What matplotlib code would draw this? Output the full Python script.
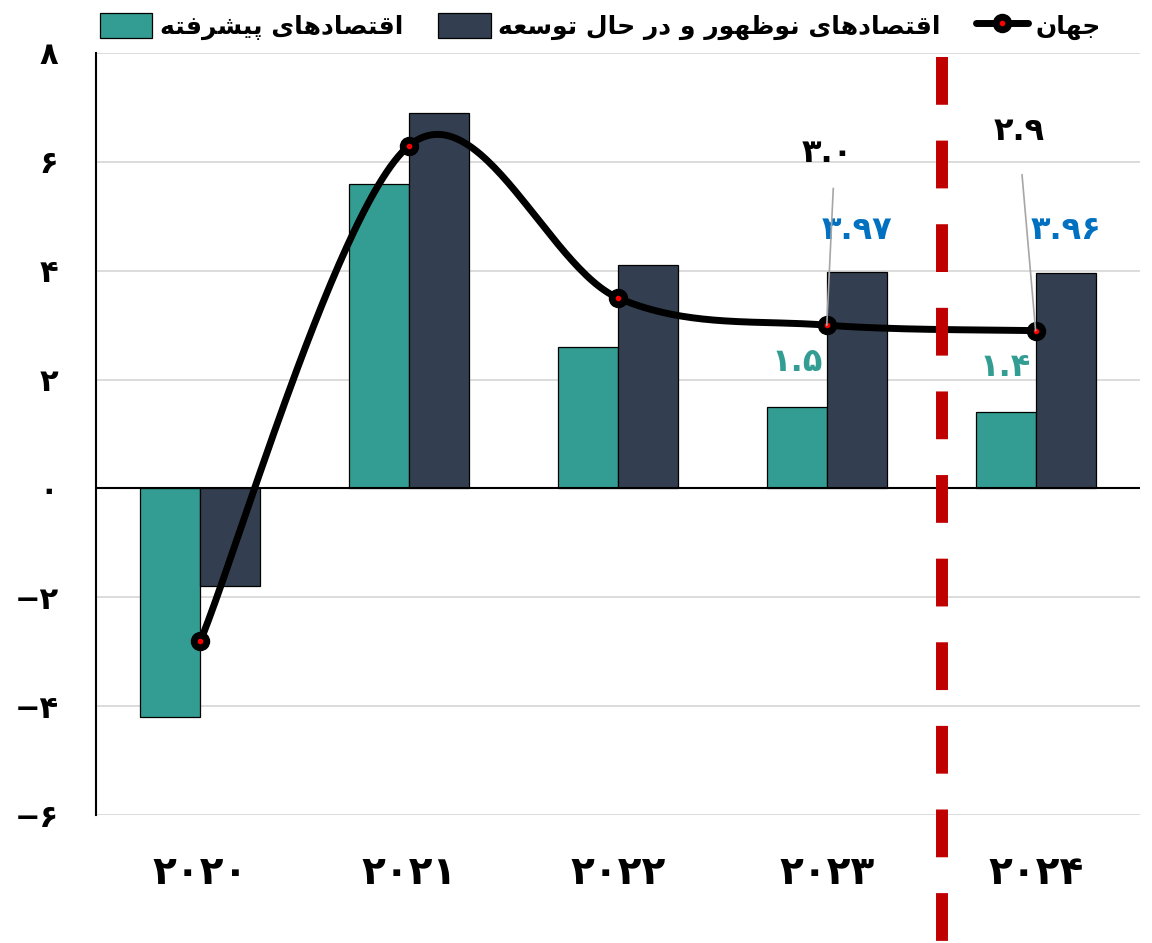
import numpy as np
import matplotlib
matplotlib.use('Agg')
from matplotlib import pyplot as plt
from matplotlib.legend_handler import HandlerTuple

years = ['2020', '2021', '2022', '2023', '2024']
advanced = [-4.2, 5.6, 2.6, 1.5, 1.4]
emerging = [-1.8, 6.9, 4.1, 3.97, 3.96]
world = [-2.8, 6.3, 3.5, 3.0, 2.9]
yticks = [-6, -4, -2, 0, 2, 4, 6, 8]

label_adv = 'اقتصادهای پیشرفته'
label_emg = 'اقتصادهای نوظهور و در حال توسعه'
label_world = 'جهان'

c_adv = '#339D93'
c_emg = '#333F50'
c_blue = '#0070C0'
c_red = '#C00000'

# contextual forms: isolated, final, initial, medial
FORMS = {
    'ا': ('\uFE8D', '\uFE8E', None, None),
    'د': ('\uFEA9', '\uFEAA', None, None),
    'ر': ('\uFEAD', '\uFEAE', None, None),
    'و': ('\uFEED', '\uFEEE', None, None),
    'ق': ('\uFED5', '\uFED6', '\uFED7', '\uFED8'),
    'ت': ('\uFE95', '\uFE96', '\uFE97', '\uFE98'),
    'ص': ('\uFEB9', '\uFEBA', '\uFEBB', '\uFEBC'),
    'ه': ('\uFEE9', '\uFEEA', '\uFEEB', '\uFEEC'),
    'ی': ('\uFBFC', '\uFBFD', '\uFBFE', '\uFBFF'),
    'پ': ('\uFB56', '\uFB57', '\uFB58', '\uFB59'),
    'ش': ('\uFEB5', '\uFEB6', '\uFEB7', '\uFEB8'),
    'ف': ('\uFED1', '\uFED2', '\uFED3', '\uFED4'),
    'ن': ('\uFEE5', '\uFEE6', '\uFEE7', '\uFEE8'),
    'ظ': ('\uFEC5', '\uFEC6', '\uFEC7', '\uFEC8'),
    'ح': ('\uFEA1', '\uFEA2', '\uFEA3', '\uFEA4'),
    'ل': ('\uFEDD', '\uFEDE', '\uFEDF', '\uFEE0'),
    'س': ('\uFEB1', '\uFEB2', '\uFEB3', '\uFEB4'),
    'ع': ('\uFEC9', '\uFECA', '\uFECB', '\uFECC'),
    'ج': ('\uFE9D', '\uFE9E', '\uFE9F', '\uFEA0'),
}


def shape(s):
    out = []
    for i, ch in enumerate(s):
        if ch not in FORMS:
            out.append(ch)
            continue
        prev = s[i-1] if i > 0 else ''
        nxt = s[i+1] if i < len(s)-1 else ''
        join_prev = prev in FORMS and FORMS[prev][2] is not None
        join_next = nxt in FORMS and FORMS[ch][2] is not None
        iso, fin, ini, med = FORMS[ch]
        if join_prev and join_next:
            out.append(med)
        elif join_prev:
            out.append(fin)
        elif join_next:
            out.append(ini)
        else:
            out.append(iso)
    return ''.join(out)[::-1]


FA = str.maketrans('0123456789-', '۰۱۲۳۴۵۶۷۸۹−')


def fa(v):
    return str(v).translate(FA)


def smooth(xs, ys, n=60):
    # excel-like bezier smoothing
    P = np.column_stack([xs, ys]).astype(float)
    out = []
    for i in range(len(P)-1):
        p0 = P[i-1] if i > 0 else P[i]
        p1, p2 = P[i], P[i+1]
        p3 = P[i+2] if i+2 < len(P) else P[i+1]
        c1 = p1 + (p2-p0)/6
        c2 = p2 - (p3-p1)/6
        t = np.linspace(0, 1, n)[:, None]
        seg = (1-t)**3*p1 + 3*(1-t)**2*t*c1 + 3*(1-t)*t**2*c2 + t**3*p2
        out.append(seg)
    out = np.vstack(out)
    return out[:, 0], out[:, 1]


fig = plt.figure(figsize=(11.52, 9.43), dpi=100)
ax = fig.add_axes([0.0833, 0.1357, 0.9063, 0.8081])

x = np.arange(len(years))
w = 0.287
b1 = ax.bar(x - w/2, advanced, w, color=c_adv, edgecolor='black', linewidth=0.9, zorder=3)
b2 = ax.bar(x + w/2, emerging, w, color=c_emg, edgecolor='black', linewidth=0.9, zorder=3)

sx, sy = smooth(x, world)
curve, = ax.plot(sx, sy, color='black', lw=5, zorder=5, solid_capstyle='round')
mk1, = ax.plot(x, world, 'o', color='black', ms=13, zorder=6, linestyle='none')
mk2, = ax.plot(x, world, 'o', color='red', ms=3, zorder=7, linestyle='none')

ax.axhline(0, color='black', lw=1.5, zorder=4)

# forecast divider
ax.plot([3.55, 3.55], [7.92, -8.4], color=c_red, lw=8.6, dashes=(4, 3),
        dash_capstyle='butt', clip_on=False, zorder=8)

ax.set_xlim(-0.5, 4.5)
ax.set_ylim(-6, 8)
ax.set_yticks(yticks)
ax.set_yticklabels([fa(v) for v in yticks], fontsize=22, fontweight='bold', family='DejaVu Sans')
ax.set_xticks(x)
ax.set_xticklabels([fa(y) for y in years], fontsize=28, fontweight='bold', family='DejaVu Sans')
ax.tick_params(axis='y', length=0, pad=27)
ax.tick_params(axis='x', length=0, pad=28)
for v in yticks:
    if v != 0:
        ax.axhline(v, color='#D9D9D9', lw=1.3, zorder=0)
for s in ['top', 'right', 'bottom']:
    ax.spines[s].set_visible(False)
ax.spines['left'].set_linewidth(1.5)

# labels
for i in [3, 4]:
    ax.text(x[i] + w/2, emerging[i] + 0.77, fa(emerging[i]), ha='center', va='center',
            fontsize=23, fontweight='bold', color=c_blue, zorder=9)
    ax.text(x[i] - w/2, advanced[i] + 0.82, fa(advanced[i]), ha='center', va='center',
            fontsize=23, fontweight='bold', color=c_adv, zorder=9)
ax.text(3.0, 6.15, fa('%.1f' % world[3]), ha='center', va='center', fontsize=23, fontweight='bold', zorder=9)
ax.plot([3.031, 3.0], [5.51, world[3]], color='#A6A6A6', lw=1.2, zorder=9)
ax.text(3.92, 6.56, fa('%.1f' % world[4]), ha='center', va='center', fontsize=23, fontweight='bold', zorder=9)
ax.plot([3.935, 4.0], [5.76, world[4]], color='#A6A6A6', lw=1.2, zorder=9)

fig.legend([b1, b2, (curve, mk1, mk2)], [shape(label_adv), shape(label_emg), shape(label_world)],
           handler_map={tuple: HandlerTuple(ndivide=1)},
           loc='center', bbox_to_anchor=(0.521, 0.972), ncol=3, frameon=False,
           prop=dict(family='DejaVu Sans', weight='bold', size=18),
           handlelength=2.1, handleheight=1.2, handletextpad=0.3, columnspacing=1.4)

plt.savefig('out.png', dpi=100)
plt.close()
